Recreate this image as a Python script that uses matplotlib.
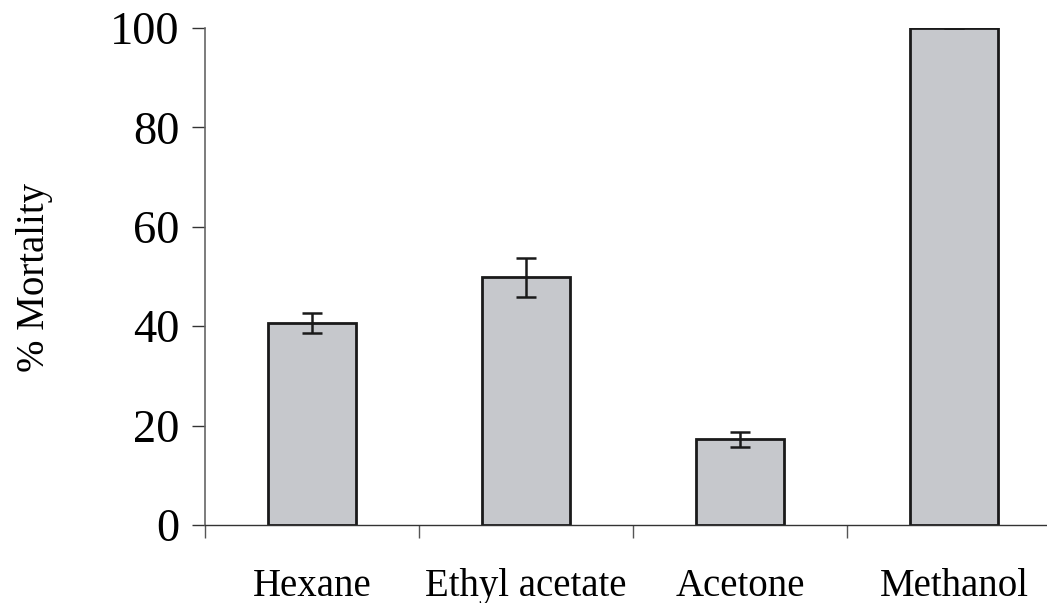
import numpy as np
from matplotlib import pyplot as plt
from matplotlib.ticker import FixedLocator, NullFormatter

# data
solvents = ["Hexane", "Ethyl acetate", "Acetone", "Methanol"]
mortality = [40.6, 49.8, 17.2, 100.0]
err = [2.0, 4.0, 1.5, 0.0]
yticks = [0, 20, 40, 60, 80, 100]

plt.rcParams['font.family'] = ['Liberation Serif', 'DejaVu Serif']

fig = plt.figure(figsize=(10.47, 6.03), dpi=100)
# the x axis runs off the right edge in the original
ax = fig.add_axes([0.1958, 0.1294, 0.8176, 0.8242])

x = np.arange(len(solvents))
ax.bar(x, mortality, width=0.41, color='#c6c8cc', edgecolor='#1a1a1a',
       linewidth=2.0, zorder=2)
ax.errorbar(x, mortality, yerr=err, fmt='none', ecolor='#1a1a1a',
            elinewidth=1.8, capsize=7.5, capthick=1.8, zorder=3)

ax.set_xlim(-0.5, len(solvents) - 0.5)
ax.set_ylim(0, 100)
ax.set_yticks(yticks)

# ticks at the category boundaries, labels at the centres
ax.xaxis.set_major_locator(FixedLocator(np.arange(len(solvents) + 1) - 0.5))
ax.xaxis.set_major_formatter(NullFormatter())
ax.xaxis.set_minor_locator(FixedLocator(x))
ax.set_xticklabels(solvents, minor=True)
ax.tick_params(axis='x', which='minor', length=0, pad=31, labelsize=28)
ax.tick_params(axis='x', which='major', length=9.5, width=1.0,
               color='#555555', direction='out')
ax.tick_params(axis='y', length=9.5, width=1.0, color='#333333',
               direction='out', pad=9, labelsize=33.5)

for s in ['top', 'right']:
    ax.spines[s].set_visible(False)
ax.spines['left'].set_color('#666666')
ax.spines['left'].set_linewidth(1.2)
ax.spines['bottom'].set_color('#333333')
ax.spines['bottom'].set_linewidth(1.0)

ax.set_ylabel("% Mortality", fontsize=28)
ax.yaxis.set_label_coords(-0.178, 0.497)

fig.savefig("out.png", dpi=100)
